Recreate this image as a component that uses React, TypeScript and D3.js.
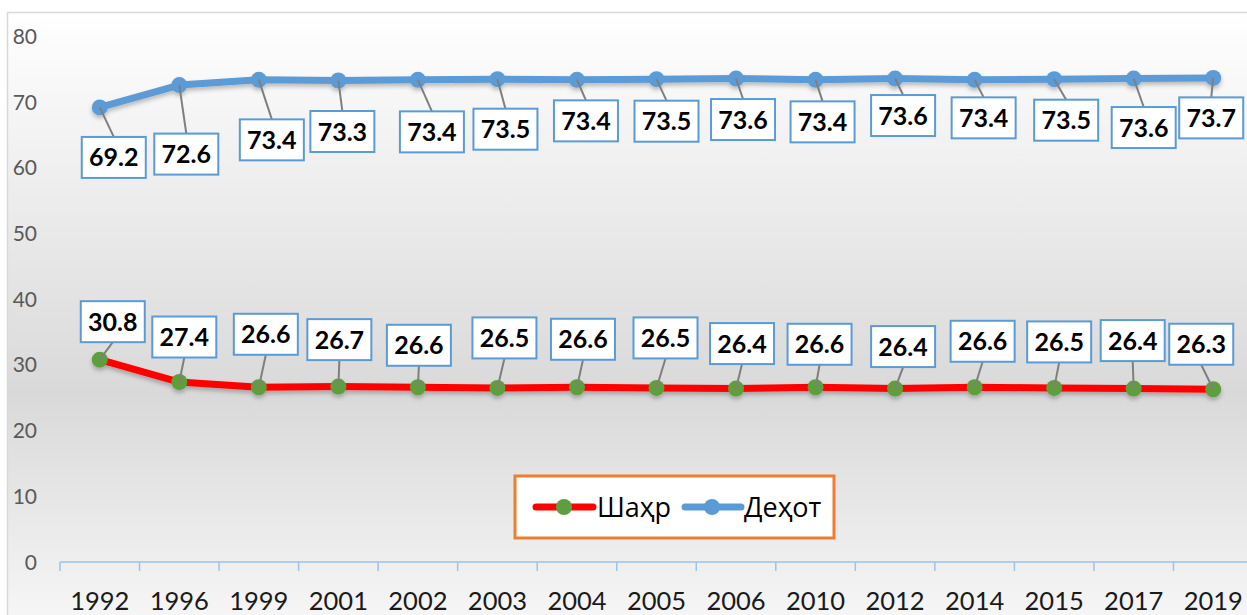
import React from 'react'
import * as d3 from 'd3'

const years = ['1992', '1996', '1999', '2001', '2002', '2003', '2004', '2005', '2006', '2010', '2012', '2014', '2015', '2017', '2019']
const urban = [30.8, 27.4, 26.6, 26.7, 26.6, 26.5, 26.6, 26.5, 26.4, 26.6, 26.4, 26.6, 26.5, 26.4, 26.3]
const rural = [69.2, 72.6, 73.4, 73.3, 73.4, 73.5, 73.4, 73.5, 73.6, 73.4, 73.6, 73.4, 73.5, 73.6, 73.7]
const yTicks = [0, 10, 20, 30, 40, 50, 60, 70, 80]
const seriesNames = ['Шаҳр', 'Деҳот']

// where excel's dragged labels sit, relative to their point
const ruralShift = [[14, 50], [7, 69], [13, 60], [4, 51], [14, 52], [8, 50], [9, 41], [10, 42], [7, 41], [7, 42], [8, 37], [9, 38], [12, 41], [10, 49], [-2, 40]]
const urbanShift = [[13, -38], [5, -45], [7, -53], [1, -47], [1, -42], [7, -50], [6, -48], [9, -50], [6, -45], [4, -43], [8, -42], [8, -46], [5, -46], [-1, -48], [-12, -45]]

const W = 1247
const H = 615
const BOX_W = 64
const BOX_H = 41

export default function App() {
    const x = d3.scaleBand().domain(years).range([60, 1253])
    const y = d3.scaleLinear().domain([0, 80]).range([562, 36.5])
    const cx = (yr: string) => (x(yr) as number) + x.bandwidth() / 2

    const line = d3.line<number>()
        .x((d, i) => cx(years[i]))
        .y((d) => y(d))

    const labels = (vals: number[], shift: number[][], below: boolean) =>
        vals.map((v, i) => {
            const px = cx(years[i])
            const py = y(v)
            const bx = px + shift[i][0]
            const by = py + shift[i][1]
            const edge = below ? by - BOX_H / 2 : by + BOX_H / 2
            return (
                <g key={i}>
                    <line x1={px} y1={py} x2={bx} y2={edge} stroke="#7f7f7f" strokeWidth={2} />
                    <rect x={bx - BOX_W / 2} y={by - BOX_H / 2} width={BOX_W} height={BOX_H}
                        fill="#fff" stroke="#5b9bd5" strokeWidth={2} />
                    <text x={bx} y={by + 9} textAnchor="middle" fontSize={25} fontWeight="bold"
                        fontFamily="Lato, 'Open Sans', sans-serif" fill="#000">{v.toFixed(1)}</text>
                </g>
            )
        })

    const markers = (vals: number[], fill: string) =>
        vals.map((v, i) => <circle key={i} cx={cx(years[i])} cy={y(v)} r={8} fill={fill} />)

    return (
        <svg width={W} height={H} style={{ position: 'absolute', left: 0, top: 0 }}>
            <defs>
                <linearGradient id="bg" x1="0" y1="0" x2="0" y2="1">
                    <stop offset="0%" stopColor="#ffffff" />
                    <stop offset="62%" stopColor="#d9d9d9" />
                    <stop offset="100%" stopColor="#f7f7f7" />
                </linearGradient>
                <filter id="sh" x="-20%" y="-20%" width="140%" height="160%">
                    <feDropShadow dx="0" dy="3" stdDeviation="2" floodColor="#000" floodOpacity="0.25" />
                </filter>
            </defs>
            <rect x={0} y={0} width={W} height={H} fill="#fff" />
            <rect x={7.5} y={12.5} width={W} height={H} fill="url(#bg)" stroke="#d9d9d9" strokeWidth={1.5} />

            {yTicks.map((t) => (
                <text key={t} x={37} y={y(t) + 7.5} textAnchor="end" fontSize={21}
                    fontFamily="Lato, sans-serif" fill="#595959">{t}</text>
            ))}

            <line x1={60} x2={1253} y1={562} y2={562} stroke="#9dc3e6" strokeWidth={1.5} />
            {years.map((yr) => (
                <line key={yr} x1={x(yr)} x2={x(yr)} y1={562} y2={571} stroke="#9dc3e6" strokeWidth={1.5} />
            ))}
            {years.map((yr) => (
                <text key={yr} x={cx(yr)} y={610} textAnchor="middle" fontSize={25.5}
                    fontFamily="Lato, sans-serif" fill="#1a1a1a">{yr}</text>
            ))}

            <g filter="url(#sh)">
                <path d={line(rural) as string} fill="none" stroke="#5b9bd5" strokeWidth={7} strokeLinejoin="round" />
                {markers(rural, '#5b9bd5')}
                <path d={line(urban) as string} fill="none" stroke="#ff0000" strokeWidth={7} strokeLinejoin="round" />
                {markers(urban, '#5f9e3e')}
            </g>

            {labels(rural, ruralShift, true)}
            {labels(urban, urbanShift, false)}

            <g>
                <rect x={515} y={476} width={319} height={62} fill="#fff" stroke="#ed7d31" strokeWidth={3} />
                <line x1={536} x2={593} y1={507} y2={507} stroke="#ff0000" strokeWidth={7} strokeLinecap="round" />
                <circle cx={564} cy={507} r={8} fill="#5f9e3e" />
                <text x={597} y={517} fontSize={27} fontFamily="'Open Sans', sans-serif" fill="#000">{seriesNames[0]}</text>
                <line x1={685} x2={741} y1={507} y2={507} stroke="#5b9bd5" strokeWidth={7} strokeLinecap="round" />
                <circle cx={712} cy={507} r={8} fill="#5b9bd5" />
                <text x={744} y={517} fontSize={27} fontFamily="'Open Sans', sans-serif" fill="#000">{seriesNames[1]}</text>
            </g>
        </svg>
    )
}
